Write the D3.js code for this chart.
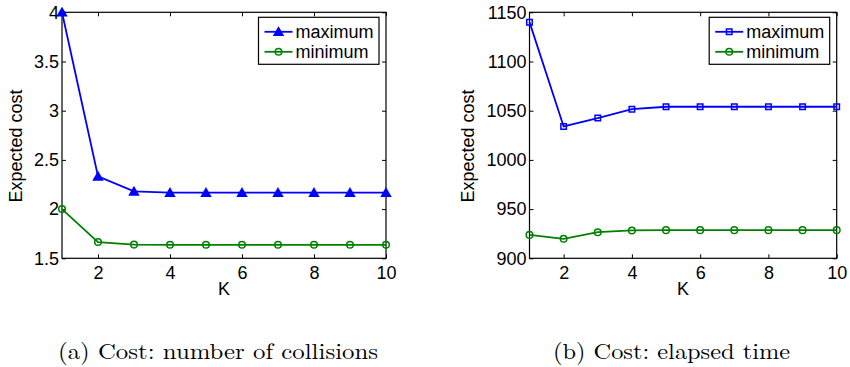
<!DOCTYPE html>
<html>
<head>
<meta charset="utf-8">
<script src="https://cdn.jsdelivr.net/npm/d3@7"></script>
<style>
  body { margin: 0; background: #fff; }
  svg { display: block; }
  .tick text, .legend text, .axis-label { font-family: "Liberation Sans", Arial, Helvetica, sans-serif; fill: #000; }
  .caption { font-family: "Latin Modern Roman", "CMU Serif", "Liberation Serif", serif; fill: #000; }
</style>
</head>
<body>
<svg id="chart" width="850" height="367"></svg>
<script>
const kValues = [1, 2, 3, 4, 5, 6, 7, 8, 9, 10];
const kTicks = [2, 4, 6, 8, 10];

// (a) number of collisions
const collisionsMax = [4.0, 2.333, 2.18, 2.167, 2.167, 2.167, 2.167, 2.167, 2.167, 2.167];
const collisionsMin = [2.0, 1.665, 1.639, 1.637, 1.637, 1.637, 1.637, 1.637, 1.637, 1.637];
const collisionsTicks = [1.5, 2, 2.5, 3, 3.5, 4];

// (b) elapsed time
const timeMax = [1140, 1034, 1042.5, 1051.5, 1054, 1054, 1054, 1054, 1054, 1054];
const timeMin = [923.8, 919.8, 926.5, 928.3, 928.6, 928.6, 928.6, 928.6, 928.6, 928.6];
const timeTicks = [900, 950, 1000, 1050, 1100, 1150];

const seriesNames = ['maximum', 'minimum'];
const captions = ['(a) Cost: number of collisions', '(b) Cost: elapsed time'];

const blue = '#0000ff';
const green = '#008000';

const svg = d3.select('#chart');

const panels = [
  {
    left: 62, right: 386, top: 12.3, bottom: 258.3,
    yDomain: [1.5, 4], yTicks: collisionsTicks, yFormat: d3.format('~g'),
    maxValues: collisionsMax, minValues: collisionsMin, maxSymbol: d3.symbolTriangle, maxSize: 34,
    yLabelX: 21.5, caption: captions[0], captionX: 218, captionLen: 320
  },
  {
    left: 529.5, right: 836.7, top: 12.3, bottom: 258.3,
    yDomain: [900, 1150], yTicks: timeTicks, yFormat: d3.format('d'),
    maxValues: timeMax, minValues: timeMin, maxSymbol: d3.symbolSquare, maxSize: 30,
    yLabelX: 473.5, caption: captions[1], captionX: 671.5, captionLen: 237
  }
];

panels.forEach(p => drawPanel(p));

function drawPanel(p) {
  const w = p.right - p.left;
  const h = p.bottom - p.top;

  const x = d3.scaleLinear().domain([1, 10]).range([0, w]);
  const y = d3.scaleLinear().domain(p.yDomain).range([h, 0]);

  const g = svg.append('g').attr('transform', `translate(${p.left},${p.top})`);

  // inward ticks on all four sides, MATLAB style
  const tickLen = -4;
  g.append('g')
    .attr('transform', `translate(0,${h})`)
    .call(d3.axisBottom(x).tickValues(kTicks).tickSize(tickLen).tickPadding(8))
    .call(ax => ax.select('.domain').remove());
  g.append('g')
    .call(d3.axisTop(x).tickValues(kTicks).tickSize(tickLen).tickFormat(''))
    .call(ax => ax.select('.domain').remove());
  g.append('g')
    .call(d3.axisLeft(y).tickValues(p.yTicks).tickSize(tickLen).tickPadding(3).tickFormat(p.yFormat))
    .call(ax => ax.select('.domain').remove());
  g.append('g')
    .attr('transform', `translate(${w},0)`)
    .call(d3.axisRight(y).tickValues(p.yTicks).tickSize(tickLen).tickFormat(''))
    .call(ax => ax.select('.domain').remove());

  g.selectAll('.tick line').attr('stroke', '#000').attr('stroke-width', 1);
  g.selectAll('.tick text').style('font-size', '18px');

  g.append('rect')
    .attr('width', w).attr('height', h)
    .attr('fill', 'none').attr('stroke', '#000').attr('stroke-width', 1.2);

  const line = d3.line().x((d, i) => x(kValues[i])).y(d => y(d));

  // maximum series
  g.append('path').datum(p.maxValues)
    .attr('d', line).attr('fill', 'none').attr('stroke', blue).attr('stroke-width', 1.8);
  const maxSym = d3.symbol().type(p.maxSymbol).size(p.maxSize);
  g.selectAll('.max-mark').data(p.maxValues).enter().append('path')
    .attr('class', 'max-mark')
    .attr('d', maxSym)
    .attr('transform', (d, i) => `translate(${x(kValues[i])},${y(d) + (p.maxSymbol === d3.symbolTriangle ? 1 : 0)})`)
    .attr('fill', p.maxSymbol === d3.symbolTriangle ? blue : 'none')
    .attr('stroke', blue).attr('stroke-width', 1.5);

  // minimum series
  g.append('path').datum(p.minValues)
    .attr('d', line).attr('fill', 'none').attr('stroke', green).attr('stroke-width', 1.8);
  g.selectAll('.min-mark').data(p.minValues).enter().append('circle')
    .attr('class', 'min-mark')
    .attr('cx', (d, i) => x(kValues[i])).attr('cy', d => y(d))
    .attr('r', 3.3)
    .attr('fill', 'none').attr('stroke', green).attr('stroke-width', 1.5);

  // axis labels
  svg.append('text').attr('class', 'axis-label')
    .attr('x', p.left + w / 2).attr('y', 295)
    .attr('text-anchor', 'middle').style('font-size', '18px')
    .text('K');
  svg.append('text').attr('class', 'axis-label')
    .attr('transform', `translate(${p.yLabelX},146) rotate(-90)`)
    .attr('text-anchor', 'middle').style('font-size', '18px')
    .text('Expected cost');

  // legend
  const lg = g.append('g').attr('class', 'legend')
    .attr('transform', `translate(${w - 127.5},5)`);
  lg.append('rect').attr('width', 120.5).attr('height', 47)
    .attr('fill', '#fff').attr('stroke', '#000').attr('stroke-width', 1.2);
  const rows = [
    { name: seriesNames[0], color: blue, sym: p.maxSymbol, size: p.maxSize },
    { name: seriesNames[1], color: green, sym: d3.symbolCircle, size: 34 }
  ];
  rows.forEach((r, i) => {
    const ry = 14.5 + i * 20;
    lg.append('line').attr('x1', 6).attr('x2', 34).attr('y1', ry).attr('y2', ry)
      .attr('stroke', r.color).attr('stroke-width', 1.8);
    lg.append('path').attr('d', d3.symbol().type(r.sym).size(r.size))
      .attr('transform', `translate(20,${ry + (r.sym === d3.symbolTriangle ? 1 : 0)})`)
      .attr('fill', r.sym === d3.symbolTriangle ? r.color : 'none')
      .attr('stroke', r.color).attr('stroke-width', 1.5);
    lg.append('text').attr('x', 37).attr('y', ry + 6.5)
      .style('font-size', '18px').text(r.name);
  });

  // caption (Computer Modern is wider than the fallback serif, so stretch to its width)
  svg.append('text').attr('class', 'caption')
    .attr('x', p.captionX).attr('y', 359)
    .attr('text-anchor', 'middle').style('font-size', '22px')
    .attr('textLength', p.captionLen).attr('lengthAdjust', 'spacingAndGlyphs')
    .text(p.caption);
}
</script>
</body>
</html>
